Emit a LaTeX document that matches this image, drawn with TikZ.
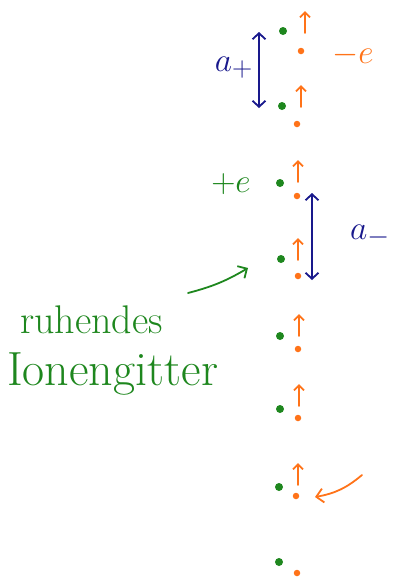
\documentclass[tikz,border=0pt]{standalone}
\usetikzlibrary{arrows.meta}
\definecolor{iongreen}{RGB}{30,135,30}
\definecolor{elorange}{RGB}{255,115,25}
\definecolor{gapblue}{RGB}{25,25,140}
\newcommand{\bigsym}[1]{\scalebox{1.35}{\Huge$#1$}}
\begin{document}
\begin{tikzpicture}[x=1pt,y=-1pt,line cap=round,line join=round,
  ion/.style={circle,fill=iongreen,inner sep=0pt,minimum size=8pt},
  elec/.style={circle,fill=elorange,inner sep=0pt,minimum size=6.5pt},
  drift/.style={draw=elorange,line width=1.8pt,-{Straight Barb[length=5pt,width=10pt]}},
  gap/.style={draw=gapblue,line width=1.8pt,{Straight Barb[length=6pt,width=13pt]}-{Straight Barb[length=6pt,width=13pt]}},
  pointer/.style={draw=#1,line width=1.8pt,-{Straight Barb[length=7pt,width=14pt]}},
  hand/.style={font=\fontsize{#1}{48}\selectfont,inner sep=0pt},
  sym/.style={inner sep=0pt}]
\useasboundingbox (0,0) rectangle (394,579);
% ions and electrons of the chain
\foreach \i/\ix/\iy/\ex/\ey in {1/283/31/301/51,2/282/106/297/124,3/280/183/297/196,4/281/259/298/276,
    5/280/336/298/349,6/280/409/298/418,7/279/487/296/496,8/279/562/297/573} {
  \node[ion] (ion\i) at (\ix,\iy) {};
  \node[elec] (el\i) at (\ex,\ey) {};
}
\foreach \i/\dx/\dy in {1/4/-18,2/4/-17,3/1/-14,4/0/-16,5/1/-13,6/1/-12,7/2/-11}
  \draw[drift] (el\i) ++(\dx,\dy) -- ++(0,-22);
% lattice constants
\coordinate (aptop) at (259,32); \coordinate (apbot) at (259,108);
\coordinate (amtop) at (312,193); \coordinate (ambot) at (312,280);
\draw[gap] (aptop) -- (apbot);
\draw[gap] (amtop) -- (ambot);
\node[sym,text=gapblue] (aplus) at (234,68) {\bigsym{a_+}};
\node[sym,text=gapblue] (aminus) at (370,236) {\bigsym{a_-}};
\node[sym,text=elorange] (minuse) at (353,55) {\bigsym{-e}};
\node[sym,text=iongreen] (pluse) at (231,184) {\bigsym{+e}};
% labels
\node[hand=40,text=iongreen,anchor=base west] (ruh) at (20,333) {ruhendes};
\node[hand=48,text=iongreen,anchor=base west] (gitter) at (7,385) {Ionengitter};
\coordinate (gtail) at (188,293); \coordinate (ghead) at (248,268);
\coordinate (etail) at (362,475); \coordinate (ehead) at (315,497);
\draw[pointer=iongreen] (gtail) to[bend right=8] (ghead);
\draw[pointer=elorange] (etail) to[bend left=15] (ehead);
\end{tikzpicture}
\end{document}
